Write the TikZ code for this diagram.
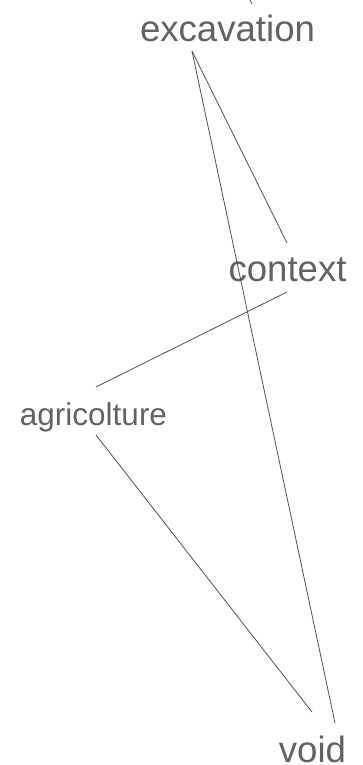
\documentclass[tikz,border=0pt]{standalone}
\usepackage{fontspec}
\setmainfont{Liberation Sans}
\usepackage{tikz}
\definecolor{labelgray}{HTML}{626262}
\definecolor{edgegray}{HTML}{505050}
\tikzset{
  termlabel/.style  = {inner sep=0pt,anchor=base,text=labelgray,font=\fontsize{36.6}{40}\selectfont},
  smalllabel/.style = {termlabel,font=\fontsize{31.5}{36}\selectfont},
  linkline/.style   = {edgegray,line width=0.8pt}
}
\begin{document}
\begin{tikzpicture}[x=1pt,y=-1pt]
  \useasboundingbox (0,0) rectangle (363,765);
  % --- terms, placed at their baselines
  \node[termlabel]  (excavation)  at (227.5,41.5) {excavation};
  \node[termlabel]  (context)     at (287.5,281)  {context};
  \node[smalllabel] (agricolture) at (93.5,425)   {agricolture};
  \node[termlabel]  (void)        at (312.5,762)  {void};
  \coordinate (offtop) at (249,-2);
  % --- links between terms
  \draw[linkline] ([shift={(-35.5,9.5)}]excavation.base) -- ([shift={(-0.5,-38)}]context.base);
  \draw[linkline] ([shift={(-35.5,9.5)}]excavation.base) -- ([shift={(22.5,-39)}]void.base);
  \draw[linkline] ([shift={(-0.5,11)}]context.base) -- ([shift={(2.5,-38)}]agricolture.base);
  \draw[linkline] ([shift={(2.5,10)}]agricolture.base) -- ([shift={(-0.5,-50)}]void.base);
  \draw[linkline] ([shift={(24.5,-37.5)}]excavation.base) -- (offtop);
\end{tikzpicture}
\end{document}
